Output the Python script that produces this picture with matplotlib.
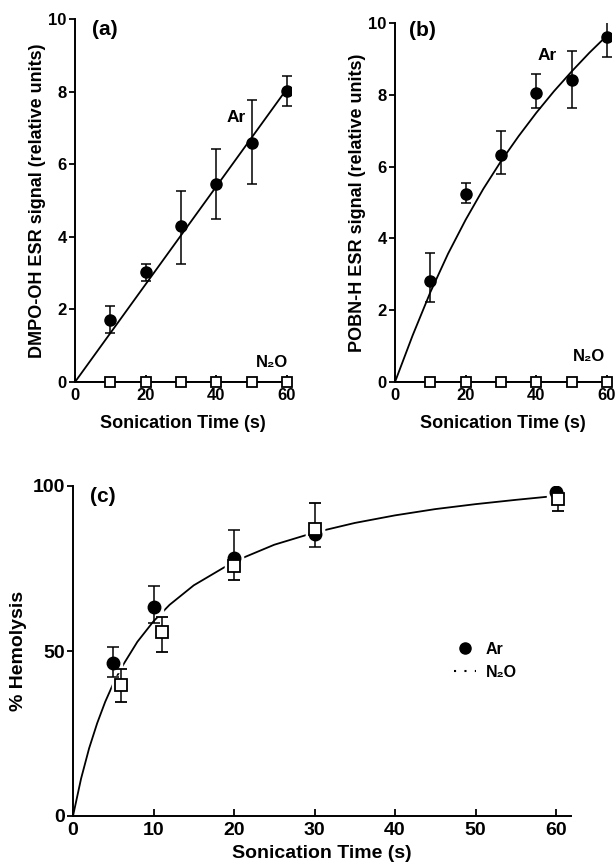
import matplotlib
matplotlib.use("Agg")
import matplotlib.pyplot as plt
from matplotlib.lines import Line2D
import numpy as np

plt.rcParams['font.family'] = ['Liberation Sans', 'DejaVu Sans']
plt.rcParams['font.weight'] = 'bold'
plt.rcParams['axes.labelweight'] = 'bold'

# ---- panel (a): DMPO-OH ----
a_x = [10, 20, 30, 40, 50, 60]
a_ar = [1.72, 3.02, 4.3, 5.45, 6.58, 8.03]
a_ar_lo = [1.35, 2.78, 3.25, 4.5, 5.45, 7.6]
a_ar_hi = [2.08, 3.24, 5.25, 6.42, 7.78, 8.43]
a_n2o = [0, 0, 0, 0, 0, 0]
a_fit_x = [0, 60]
a_fit_y = [0, 8.08]

# ---- panel (b): POBN-H ----
b_x = [10, 20, 30, 40, 50, 60]
b_ar = [2.82, 5.23, 6.33, 8.05, 8.42, 9.6]
b_ar_lo = [2.22, 4.98, 5.8, 7.63, 7.62, 9.05]
b_ar_hi = [3.58, 5.54, 7.0, 8.58, 9.22, 10.15]
b_n2o = [0, 0, 0, 0, 0, 0]
b_fit_x = [0, 5, 10, 15, 20, 25, 30, 35, 40, 45, 50, 55, 60]
b_fit_y = [0, 1.3, 2.5, 3.57, 4.52, 5.38, 6.15, 6.85, 7.5, 8.1, 8.65, 9.17, 9.65]

# ---- panel (c): hemolysis ----
c_ar_x = [5, 10, 20, 30, 60]
c_ar = [46.5, 63.3, 78.1, 85.4, 98.2]
c_ar_lo = [42.2, 58.5, 78.1, 81.4, 98.2]
c_ar_hi = [51.2, 69.7, 86.7, 85.4, 100.2]
c_n2o_x = [6, 11, 20, 30, 60.3]
c_n2o = [39.7, 55.8, 75.9, 86.9, 96.0]
c_n2o_lo = [34.5, 49.7, 71.4, 86.9, 92.5]
c_n2o_hi = [44.6, 60.3, 75.9, 95.0, 96.0]
c_fit_x = [0, 1, 2, 3, 4, 5, 6, 8, 10, 12, 15, 20, 25, 30, 35, 40, 45, 50, 55, 60]
c_fit_y = [0, 11.3, 20.5, 28.1, 34.6, 40.1, 44.9, 52.8, 59.0, 64.0, 69.9, 77.1,
           82.2, 85.9, 88.8, 91.1, 93.0, 94.5, 95.8, 97.0]

fig = plt.figure(figsize=(6.16, 8.67), dpi=100)

W, H = 616.0, 867.0


def add_ax(x0, x60, xmax, ytop, ybot):
    # pixel positions -> figure fractions
    width = (x60 - x0) * xmax / 60.0
    return fig.add_axes([x0 / W, 1 - ybot / H, width / W, (ybot - ytop) / H])


def style(ax, size):
    for s in ['top', 'right']:
        ax.spines[s].set_visible(False)
    for s in ['left', 'bottom']:
        ax.spines[s].set_linewidth(1.4)
    ax.tick_params(axis='y', direction='out', length=4, width=1.3, pad=2, labelsize=size)
    ax.tick_params(axis='x', direction='in', length=5, width=1.3, pad=4, labelsize=size)


def errs(y, lo, hi):
    y = np.array(y)
    return [y - np.array(lo), np.array(hi) - y]


def esr_panel(ax, x, ar, lo, hi, n2o, fx, fy, ylabel, tag, ar_pos, n2o_pos):
    ax.plot(fx, fy, color='black', lw=1.3, zorder=2)
    ax.plot([0] + x, [0] + n2o, color='black', lw=1.3, zorder=2)
    ax.errorbar(x, ar, yerr=errs(ar, lo, hi), fmt='o', color='black', ms=8,
                ecolor='black', elinewidth=1.1, capsize=3.5, capthick=1.1, zorder=3)
    ax.plot(x, n2o, 's', color='black', mfc='white', mec='black', ms=6.5, mew=1.3,
            zorder=4, clip_on=False)
    ax.set_xlim(0, 61)
    ax.set_ylim(0, 10)
    ax.set_xticks([0, 20, 40, 60])
    ax.set_yticks([0, 2, 4, 6, 8, 10])
    ax.set_ylabel(ylabel, fontsize=13, labelpad=2)
    ax.set_xlabel('Sonication Time (s)', fontsize=13, labelpad=9)
    ax.text(tag[0], tag[1], tag[2], fontsize=15, fontweight='bold', ha='center', va='center')
    ax.text(ar_pos[0], ar_pos[1], 'Ar', fontsize=12.5, fontweight='bold', ha='center', va='center')
    ax.text(n2o_pos[0], n2o_pos[1], 'N₂O', fontsize=12, fontweight='bold', ha='center', va='center')
    style(ax, 12)


ax_a = add_ax(75, 287, 61, 19, 382)
esr_panel(ax_a, a_x, a_ar, a_ar_lo, a_ar_hi, a_n2o, a_fit_x, a_fit_y,
          'DMPO-OH ESR signal (relative units)', (8.5, 9.7, '(a)'), (45.6, 7.3), (55.8, 0.55))

ax_b = add_ax(395, 607, 61, 23, 382)
esr_panel(ax_b, b_x, b_ar, b_ar_lo, b_ar_hi, b_n2o, b_fit_x, b_fit_y,
          'POBN-H ESR signal (relative units)', (7.9, 9.8, '(b)'), (43.2, 9.1), (55.0, 0.7))

# ---- panel (c) ----
ax_c = add_ax(73, 556, 61.9, 486, 816)
ax_c.plot(c_fit_x, c_fit_y, color='black', lw=1.3, zorder=2)
# white halo so the curve breaks around the markers, as in the print
ax_c.plot(c_ar_x + c_n2o_x, c_ar + c_n2o, 's', color='white', ms=13, zorder=2.5)
ax_c.errorbar(c_ar_x, c_ar, yerr=errs(c_ar, c_ar_lo, c_ar_hi), fmt='o', color='black', ms=9,
              ecolor='black', elinewidth=1.1, capsize=4, capthick=1.1, zorder=3)
ax_c.errorbar(c_n2o_x, c_n2o, yerr=errs(c_n2o, c_n2o_lo, c_n2o_hi), fmt='s', color='black',
              mfc='white', mec='black', ms=8, mew=1.3, ecolor='black', elinewidth=1.1,
              capsize=4, capthick=1.1, zorder=4)
ax_c.set_xlim(0, 61.9)
ax_c.set_ylim(0, 100)
ax_c.set_xticks([0, 10, 20, 30, 40, 50, 60])
ax_c.set_yticks([0, 50, 100])
ax_c.set_ylabel('% Hemolysis', fontsize=14, labelpad=4)
ax_c.set_xlabel('Sonication Time (s)', fontsize=14, labelpad=5)
ax_c.text(3.7, 96.7, '(c)', fontsize=15, fontweight='bold', ha='center', va='center')
style(ax_c, 14)

handles = [Line2D([], [], marker='o', color='black', ls='none', ms=8),
           Line2D([], [], color='black', ls=(0, (1, 4)), lw=1.5)]
ax_c.legend(handles, ['Ar', 'N₂O'], loc='center left', bbox_to_anchor=(0.735, 0.47),
            frameon=False, fontsize=11.5, handlelength=1.4, handletextpad=0.6,
            labelspacing=0.5)

fig.savefig('out.png', dpi=100)
